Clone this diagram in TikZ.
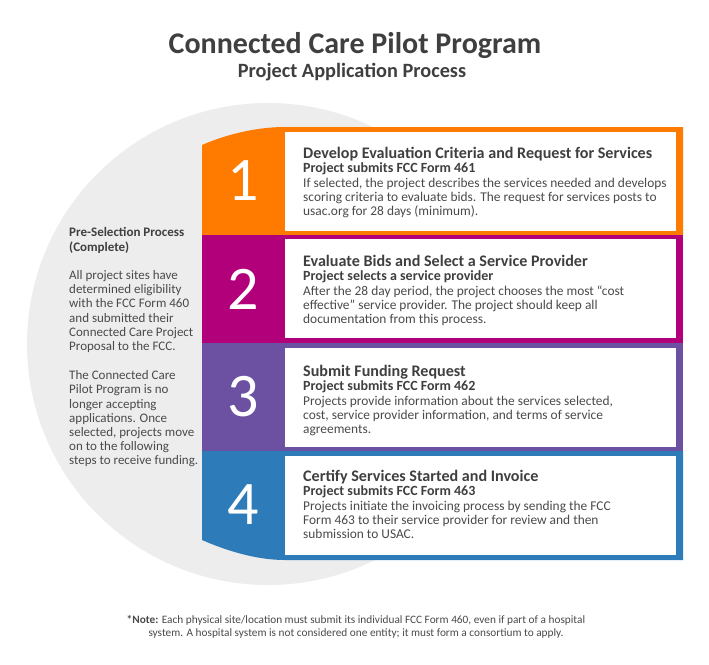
\documentclass[tikz,border=0pt]{standalone}
\usepackage{fontspec}
\setmainfont{Carlito}
\usetikzlibrary{positioning, backgrounds}

\definecolor{careorange}{HTML}{FF7B00}
\definecolor{caremagenta}{HTML}{B2007B}
\definecolor{carepurple}{HTML}{6C51A2}
\definecolor{careblue}{HTML}{2D7BB8}
\definecolor{circlegray}{HTML}{EDEDED}
\definecolor{headgray}{HTML}{3F3F3F}
\definecolor{bodygray}{HTML}{4A4A4A}

\newcommand{\steptitle}[1]{{\fontsize{16.1}{14}\selectfont\bfseries\color{headgray}#1}}
\newcommand{\stepsub}[1]{{\fontsize{14}{14}\selectfont\bfseries\color{headgray}#1}}

\begin{document}
\begin{tikzpicture}[
        x=1pt, y=-1pt,
        every node/.style={inner sep=0pt, text=bodygray},
        whitebox/.style={fill=white, anchor=north west, minimum width=391pt, minimum height=99pt},
        numlabel/.style={font=\fontsize{62}{62}\selectfont, text=white},
        steptext/.style={anchor=north west, align=left, font=\fontsize{13.4}{14}\selectfont},
        sidetext/.style={anchor=north west, align=left, font=\fontsize{13}{14.2}\selectfont},
    ]

    \useasboundingbox[fill=white] (0,0) rectangle (709,664);

    %% ===== Title =====
    \node[anchor=base, text=headgray, font=\fontsize{30}{30}\selectfont\bfseries] (title) at (355,53) {Connected Care Pilot Program};
    \node[anchor=base, text=headgray, font=\fontsize{20.3}{20.3}\selectfont\bfseries] (subtitle) at (352,77) {Project Application Process};

    %% ===== Background circle =====
    \fill[circlegray] (268,344) circle[radius=241];

    %% ===== Colour bands =====
    \fill[careorange] (202,145) .. controls (225,135) and (255,127) .. (285,127) -- (683,127) -- (683,235) -- (202,235) -- cycle;
    \fill[caremagenta] (202,235) rectangle (683,343);
    \fill[carepurple] (202,343) rectangle (683,451);
    \fill[careblue] (202,451) -- (683,451) -- (683,560) -- (285,560) .. controls (255,560) and (225,550) .. (202,540) -- cycle;

    %% ===== White step boxes =====
    \node[whitebox] (box1) at (285,132) {};
    \node[whitebox] (box2) at (285,239) {};
    \node[whitebox] (box3) at (285,348) {};
    \node[whitebox] (box4) at (285,456) {};

    %% ===== Step numbers =====
    \node[numlabel] (num1) at (243,181) {1};
    \node[numlabel] (num2) at (243,289) {2};
    \node[numlabel] (num3) at (243,397) {3};
    \node[numlabel] (num4) at (243,505) {4};

    %% ===== Step texts =====
    \node[steptext] (text1) at (303,147) {\steptitle{Develop Evaluation Criteria and Request for Services}\\
        \stepsub{Project submits FCC Form 461}\\[1pt]
        If selected, the project describes the services needed and develops\\
        scoring criteria to evaluate bids. The request for services posts to\\
        usac.org for 28 days (minimum).};
    \node[steptext] (text2) at (303,255) {\steptitle{Evaluate Bids and Select a Service Provider}\\
        \stepsub{Project selects a service provider}\\[1pt]
        After the 28 day period, the project chooses the most “cost\\
        effective” service provider. The project should keep all\\
        documentation from this process.};
    \node[steptext] (text3) at (303,365) {\steptitle{Submit Funding Request}\\
        \stepsub{Project submits FCC Form 462}\\[1pt]
        Projects provide information about the services selected,\\
        cost, service provider information, and terms of service\\
        agreements.};
    \node[steptext] (text4) at (303,470) {\steptitle{Certify Services Started and Invoice}\\
        \stepsub{Project submits FCC Form 463}\\[1pt]
        Projects initiate the invoicing process by sending the FCC\\
        Form 463 to their service provider for review and then\\
        submission to USAC.};

    %% ===== Pre-selection text =====
    \node[sidetext] (presel) at (69,227.5) {{\bfseries\color{headgray}Pre-Selection Process}\\
        {\bfseries\color{headgray}(Complete)}\\[14.2pt]
        All project sites have\\
        determined eligibility\\
        with the FCC Form 460\\
        and submitted their\\
        Connected Care Project\\
        Proposal to the FCC.\\[15pt]
        The Connected Care\\
        Pilot Program is no\\
        longer accepting\\
        applications. Once\\
        selected, projects move\\
        on to the following\\
        steps to receive funding.};

    %% ===== Footnote =====
    \node[anchor=north, align=center, font=\fontsize{11.3}{12.5}\selectfont] (note) at (356,615.5) {{\bfseries *Note:} Each physical site/location must submit its individual FCC Form 460, even if part of a hospital\\
        system. A hospital system is not considered one entity; it must form a consortium to apply.};

    \end{tikzpicture}
\end{document}
